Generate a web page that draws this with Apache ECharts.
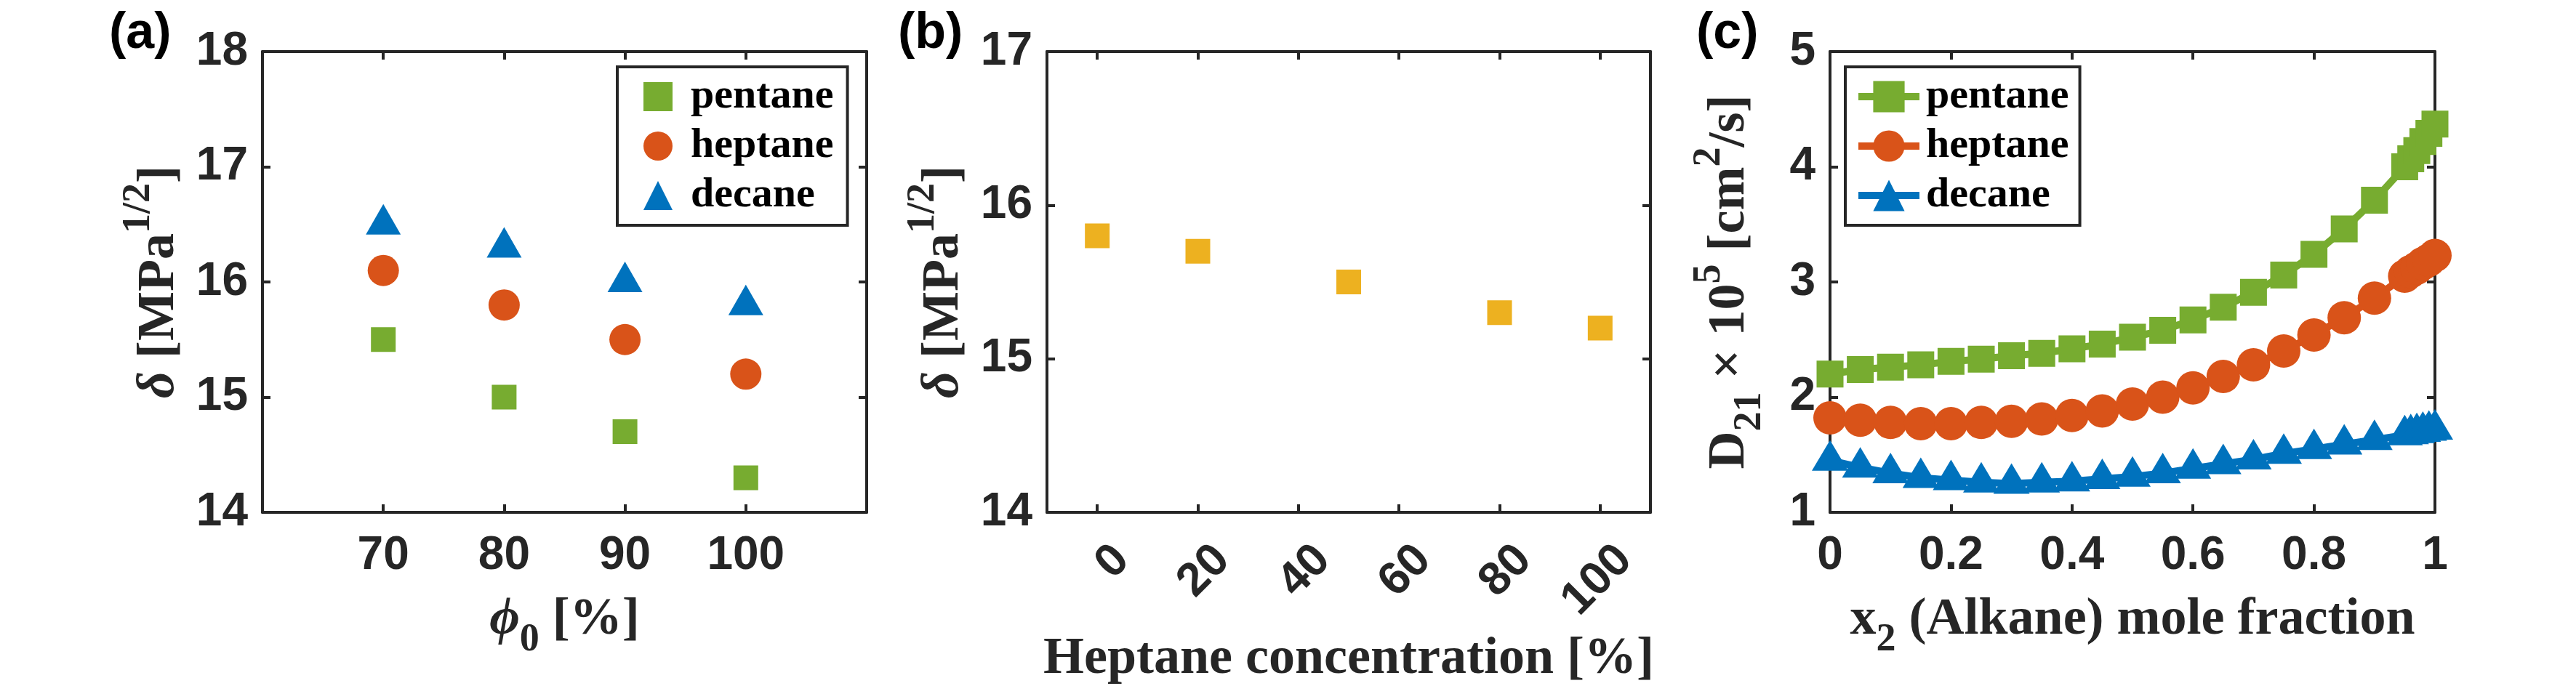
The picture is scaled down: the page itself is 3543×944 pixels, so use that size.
<!DOCTYPE html>
<html>
<head>
<meta charset="utf-8">
<script src="https://cdn.jsdelivr.net/npm/echarts@6/dist/echarts.min.js"></script>
<style>
html, body { margin: 0; padding: 0; background: #fff; }
#chart { width: 3543px; height: 944px; }
</style>
</head>
<body>
<div id="chart"></div>
<script>
// (a) solubility parameter vs phi0
var phi0 = [70, 80, 90, 100]
var phiTicks = [70, 80, 90, 100]
var aPentane = [15.5, 15.0, 14.7, 14.3]
var aHeptane = [16.1, 15.8, 15.5, 15.2]
var aDecane = [16.5, 16.3, 16.0, 15.8]

// (b) solubility parameter vs heptane concentration
var heptConc = [0, 20, 50, 80, 100]
var heptTicks = [0, 20, 40, 60, 80, 100]
var bDelta = [15.8, 15.7, 15.5, 15.3, 15.2]

// (c) diffusion coefficient vs mole fraction
var x2 = [0, 0.05, 0.1, 0.15, 0.2, 0.25, 0.3, 0.35, 0.4, 0.45, 0.5, 0.55, 0.6, 0.65, 0.7, 0.75, 0.8, 0.85, 0.9, 0.95, 0.96, 0.97, 0.98, 0.99, 1]
var cPentane = [2.20, 2.24, 2.26, 2.28, 2.31, 2.33, 2.36, 2.38, 2.42, 2.46, 2.52, 2.58, 2.67, 2.78, 2.91, 3.06, 3.24, 3.46, 3.71, 4.00, 4.07, 4.14, 4.22, 4.29, 4.37]
var cHeptane = [1.82, 1.80, 1.78, 1.77, 1.77, 1.78, 1.79, 1.81, 1.84, 1.88, 1.94, 2.00, 2.08, 2.18, 2.28, 2.40, 2.54, 2.69, 2.86, 3.05, 3.09, 3.12, 3.16, 3.19, 3.23]
var cDecane = [1.45, 1.39, 1.34, 1.30, 1.28, 1.26, 1.25, 1.26, 1.27, 1.29, 1.31, 1.34, 1.38, 1.42, 1.46, 1.51, 1.55, 1.59, 1.63, 1.67, 1.68, 1.69, 1.70, 1.71, 1.72]

var AX = '#262626'
var SANS = 'Liberation Sans, Arial, sans-serif'
var SERIF = 'Liberation Serif, Times New Roman, serif'
var GREEN = '#77AC30', ORANGE = '#D95319', BLUE = '#0072BD', YELLOW = '#EDB120'

var pairs = (xs, ys) => xs.map((x, i) => [x, ys[i]])

var rich = {
    m: {fontFamily: SERIF, fontWeight: 'bold', fontSize: 72, lineHeight: 110, color: AX},
    it: {fontFamily: SERIF, fontWeight: 'bold', fontStyle: 'italic', fontSize: 72, lineHeight: 110, color: AX},
    sup: {fontFamily: SERIF, fontWeight: 'bold', fontSize: 54, lineHeight: 54, verticalAlign: 'top', color: AX},
    sub: {fontFamily: SERIF, fontWeight: 'bold', fontSize: 54, lineHeight: 54, verticalAlign: 'bottom', color: AX}
}

var tickLabel = {fontFamily: SANS, fontWeight: 'bold', fontSize: 64, color: AX}

var xAxisPair = (grid, opts) => {
    var base = {
        gridIndex: grid, type: 'value', min: opts.min, max: opts.max,
        splitLine: {show: false},
        axisLine: {show: true, onZero: false, lineStyle: {color: AX, width: 4}},
        axisTick: {show: true, inside: true, length: 11, lineStyle: {color: AX, width: 4}}
    }
    if (opts.ticks) base.axisTick.customValues = opts.ticks
    if (opts.interval) base.interval = opts.interval
    var bottom = Object.assign({}, base, {
        position: 'bottom',
        axisLabel: Object.assign({margin: opts.margin, rotate: opts.rotate || 0}, tickLabel),
        name: opts.name, nameLocation: 'middle', nameGap: opts.nameGap, nameMoveOverlap: false,
        nameTextStyle: {rich: rich}
    })
    if (opts.rotate) {
        // matlab hangs rotated labels by their top corner
        bottom.axisLabel.verticalAlign = 'top'
        bottom.axisLabel.lineHeight = 96
    }
    if (opts.ticks) bottom.axisLabel.customValues = opts.ticks
    var top = Object.assign({}, base, {position: 'top', axisLabel: {show: false}})
    return [bottom, top]
}

var yAxisPair = (grid, opts) => {
    var base = {
        gridIndex: grid, type: 'value', min: opts.min, max: opts.max, interval: 1,
        splitLine: {show: false},
        axisLine: {show: true, onZero: false, lineStyle: {color: AX, width: 4}},
        axisTick: {show: true, inside: true, length: 11, lineStyle: {color: AX, width: 4}}
    }
    var left = Object.assign({}, base, {
        position: 'left',
        axisLabel: Object.assign({margin: 20}, tickLabel),
        name: opts.name, nameLocation: 'middle', nameRotate: 90, nameGap: opts.nameGap, nameMoveOverlap: false,
        nameTextStyle: {rich: rich}
    })
    var right = Object.assign({}, base, {position: 'right', axisLabel: {show: false}})
    return [left, right]
}

var legendBase = {
    orient: 'vertical', itemGap: 10, selectedMode: false,
    borderColor: AX, borderWidth: 4, backgroundColor: '#fff',
    formatter: (name) => name.slice(2)
}
var legendText = {fontFamily: SERIF, fontWeight: 'bold', fontSize: 58, color: '#000'}

var chart = echarts.init(document.getElementById('chart'))

chart.setOption({
    animation: false,
    backgroundColor: '#fff',
    title: [
        {text: '(a)', left: 150, top: 12, padding: 0, textStyle: {fontFamily: SANS, fontWeight: 'bold', fontSize: 70, color: '#000'}},
        {text: '(b)', left: 1235, top: 12, padding: 0, textStyle: {fontFamily: SANS, fontWeight: 'bold', fontSize: 70, color: '#000'}},
        {text: '(c)', left: 2333, top: 12, padding: 0, textStyle: {fontFamily: SANS, fontWeight: 'bold', fontSize: 70, color: '#000'}}
    ],
    grid: [
        {left: 361, top: 71, width: 831, height: 634, outerBoundsMode: 'none'},
        {left: 1440, top: 71, width: 830, height: 634, outerBoundsMode: 'none'},
        {left: 2517, top: 71, width: 832, height: 634, outerBoundsMode: 'none'}
    ],
    xAxis: [].concat(
        xAxisPair(0, {min: 60, max: 110, ticks: phiTicks, margin: 28, name: '{it|ϕ}{sub|0}{m| [%]}', nameGap: 93}),
        xAxisPair(1, {min: -10, max: 110, ticks: heptTicks, margin: 22, rotate: 45, name: '{m|Heptane concentration [%]}', nameGap: 147}),
        xAxisPair(2, {min: 0, max: 1, interval: 0.2, margin: 28, name: '{m|x}{sub|2}{m| (Alkane) mole fraction}', nameGap: 93})
    ),
    yAxis: [].concat(
        yAxisPair(0, {min: 14, max: 18, name: '{it|δ}{m| [MPa}{sup|1/2}{m|]}', nameGap: 87}),
        yAxisPair(1, {min: 14, max: 17, name: '{it|δ}{m| [MPa}{sup|1/2}{m|]}', nameGap: 87}),
        yAxisPair(2, {min: 1, max: 5, name: '{m|D}{sub|21}{m| × 10}{sup|5}{m| [cm}{sup|2}{m|/s]}', nameGap: 83})
    ),
    legend: [
        Object.assign({}, legendBase, {
            data: ['a-pentane', 'a-heptane', 'a-decane'],
            left: 849, top: 92, itemWidth: 40, itemHeight: 40, padding: [12, 19, 12, 36],
            textStyle: Object.assign({padding: [0, 0, 0, 20]}, legendText)
        }),
        Object.assign({}, legendBase, {
            data: ['c-pentane', 'c-heptane', 'c-decane'],
            left: 2538, top: 92, itemWidth: 84, itemHeight: 54, padding: [12, 15, 12, 13],
            lineStyle: {width: 10},
            textStyle: Object.assign({padding: [0, 0, 0, 4]}, legendText)
        })
    ],
    series: [
        {name: 'a-pentane', type: 'scatter', xAxisIndex: 0, yAxisIndex: 0, symbol: 'rect', symbolSize: 34,
            itemStyle: {color: GREEN, opacity: 1}, data: pairs(phi0, aPentane), silent: true},
        {name: 'a-heptane', type: 'scatter', xAxisIndex: 0, yAxisIndex: 0, symbol: 'circle', symbolSize: 43,
            itemStyle: {color: ORANGE, opacity: 1}, data: pairs(phi0, aHeptane), silent: true},
        {name: 'a-decane', type: 'scatter', xAxisIndex: 0, yAxisIndex: 0, symbol: 'triangle', symbolSize: [48, 42], symbolOffset: [0, -7],
            itemStyle: {color: BLUE, opacity: 1}, data: pairs(phi0, aDecane), silent: true},

        {name: 'b-delta', type: 'scatter', xAxisIndex: 2, yAxisIndex: 2, symbol: 'rect', symbolSize: 34,
            itemStyle: {color: YELLOW, opacity: 1}, data: pairs(heptConc, bDelta), silent: true},

        {name: 'c-pentane', type: 'line', xAxisIndex: 4, yAxisIndex: 4, symbol: 'rect', symbolSize: 37, clip: false,
            lineStyle: {color: GREEN, width: 10}, itemStyle: {color: GREEN}, data: pairs(x2, cPentane), silent: true},
        {name: 'c-heptane', type: 'line', xAxisIndex: 4, yAxisIndex: 4, symbol: 'circle', symbolSize: 46, clip: false,
            lineStyle: {color: ORANGE, width: 10}, itemStyle: {color: ORANGE}, data: pairs(x2, cHeptane), silent: true},
        {name: 'c-decane', type: 'line', xAxisIndex: 4, yAxisIndex: 4, symbol: 'triangle', symbolSize: [50, 42], symbolOffset: [0, -7], clip: false,
            lineStyle: {color: BLUE, width: 10}, itemStyle: {color: BLUE}, data: pairs(x2, cDecane), silent: true}
    ]
})
</script>
</body>
</html>
